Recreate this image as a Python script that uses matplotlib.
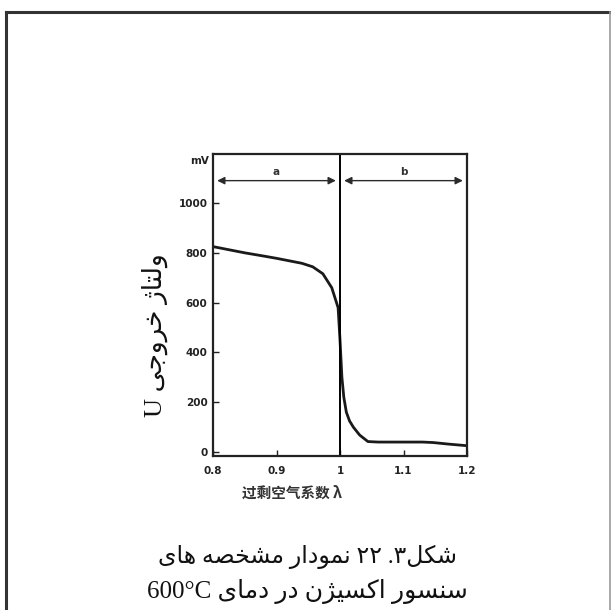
import matplotlib
matplotlib.use("Agg")
import matplotlib.pyplot as plt
from matplotlib.lines import Line2D

# curve: excess air ratio lambda vs output voltage (mV)
x_lambda = [0.80, 0.82, 0.85, 0.88, 0.90, 0.92, 0.94, 0.957, 0.973, 0.987, 0.997,
            1.000, 1.003, 1.006, 1.010, 1.015, 1.021, 1.031, 1.044, 1.06, 1.08,
            1.10, 1.13, 1.147, 1.17, 1.197]
u_mv = [825, 815, 800, 787, 778, 768, 758, 744, 716, 660, 580,
        450, 300, 220, 160, 125, 100, 68, 42, 40, 40,
        40, 40, 38, 32, 26]

xticks = [0.8, 0.9, 1.0, 1.1, 1.2]
xtick_labels = ["0.8", "0.9", "1", "1.1", "1.2"]
yticks = [0, 200, 400, 600, 800, 1000]
region_labels = ["a", "b"]
region_edges = [0.8, 1.0, 1.2]

# minimal Persian shaping (presentation forms), returns visual order
FORMS = {
    "ا": ("\uFE8D", "\uFE8E", None, None),
    "ت": ("\uFE95", "\uFE96", "\uFE97", "\uFE98"),
    "ج": ("\uFE9D", "\uFE9E", "\uFE9F", "\uFEA0"),
    "خ": ("\uFEA5", "\uFEA6", "\uFEA7", "\uFEA8"),
    "د": ("\uFEA9", "\uFEAA", None, None),
    "ر": ("\uFEAD", "\uFEAE", None, None),
    "ژ": ("\uFB8A", "\uFB8B", None, None),
    "س": ("\uFEB1", "\uFEB2", "\uFEB3", "\uFEB4"),
    "ش": ("\uFEB5", "\uFEB6", "\uFEB7", "\uFEB8"),
    "ص": ("\uFEB9", "\uFEBA", "\uFEBB", "\uFEBC"),
    "ک": ("\uFB8E", "\uFB8F", "\uFB90", "\uFB91"),
    "ل": ("\uFEDD", "\uFEDE", "\uFEDF", "\uFEE0"),
    "م": ("\uFEE1", "\uFEE2", "\uFEE3", "\uFEE4"),
    "ن": ("\uFEE5", "\uFEE6", "\uFEE7", "\uFEE8"),
    "ه": ("\uFEE9", "\uFEEA", "\uFEEB", "\uFEEC"),
    "و": ("\uFEED", "\uFEEE", None, None),
    "ی": ("\uFBFC", "\uFBFD", "\uFBFE", "\uFBFF"),
}


def fa(word):
    out = []
    for i, ch in enumerate(word):
        iso, fin, ini, med = FORMS[ch]
        joins_prev = i > 0 and FORMS[word[i - 1]][2] is not None
        joins_next = i < len(word) - 1 and ini is not None
        if joins_prev and joins_next:
            out.append(med)
        elif joins_prev:
            out.append(fin)
        elif joins_next:
            out.append(ini)
        else:
            out.append(iso)
    return "".join(reversed(out))


ylabel_text = "U " + fa("خروجی") + " " + fa("ولتاژ")
caption1 = " ".join([fa("های"), fa("مشخصه"), fa("نمودار"), "۲۲", ".۳" + fa("شکل")])
caption2 = " ".join(["600°C", fa("دمای"), fa("در"), fa("اکسیژن"), fa("سنسور")])
xlabel_text = "过剩空气系数 λ"

fig = plt.figure(figsize=(6.11, 6.10), dpi=100)
W, H = 611, 610

# page frame
fig.add_artist(Line2D([6 / W, 6 / W], [0, 1 - 12 / H], color="#333333", lw=2.2))
fig.add_artist(Line2D([6 / W, 1], [1 - 12 / H, 1 - 12 / H], color="#333333", lw=2.2))
fig.add_artist(Line2D([609.5 / W, 609.5 / W], [0, 1 - 12 / H], color="#999999", lw=1.2))

ax = fig.add_axes([213 / W, 1 - 456 / H, 254 / W, 302 / H])
ax.plot(x_lambda, u_mv, color="#1a1a1a", lw=2.0)
ax.axvline(1.0, color="black", lw=1.4)

for i, lab in enumerate(region_labels):
    ax.annotate("", xy=(region_edges[i + 1], 1090), xytext=(region_edges[i], 1090),
                arrowprops=dict(arrowstyle="<|-|>", color="#2a2a2a", lw=1.0,
                                shrinkA=3, shrinkB=3, mutation_scale=11))
    ax.text((region_edges[i] + region_edges[i + 1]) / 2, 1105, lab, ha="center",
            va="bottom", fontsize=7.5, fontweight="bold", color="#333333")

ax.set_xlim(0.8, 1.2)
ax.set_ylim(-16, 1197)
ax.set_xticks(xticks)
ax.set_xticklabels(xtick_labels)
ax.set_yticks(yticks)
ax.tick_params(direction="in", length=4, width=1, labelsize=7.5, colors="#222222", pad=4)
ax.tick_params(axis="x", pad=7)
for lab in ax.get_xticklabels() + ax.get_yticklabels():
    lab.set_fontweight("bold")
for sp in ax.spines.values():
    sp.set_linewidth(1.6)
    sp.set_color("#222222")

ax.text(-0.015, 1168, "mV", transform=ax.get_yaxis_transform(), ha="right", va="center",
        fontsize=7.5, fontweight="bold", color="#222222")

fig.text(292 / W, 1 - 493 / H, xlabel_text, ha="center", va="center", fontsize=10.5,
         fontweight="bold", color="#333333", family=["Noto Sans CJK SC", "DejaVu Sans"])

fig.text(155 / W, 1 - 335 / H, ylabel_text, ha="center", va="center", rotation=90,
         fontsize=19, color="#111111", family=["Liberation Serif", "DejaVu Sans"])

fig.text(307 / W, 1 - 557 / H, caption1, ha="center", va="center", fontsize=17,
         color="#111111", family=["Liberation Serif", "DejaVu Sans"])
fig.text(307 / W, 1 - 591 / H, caption2, ha="center", va="center", fontsize=18,
         color="#111111", family=["Liberation Serif", "DejaVu Sans"])

fig.savefig("out.png", dpi=100)
